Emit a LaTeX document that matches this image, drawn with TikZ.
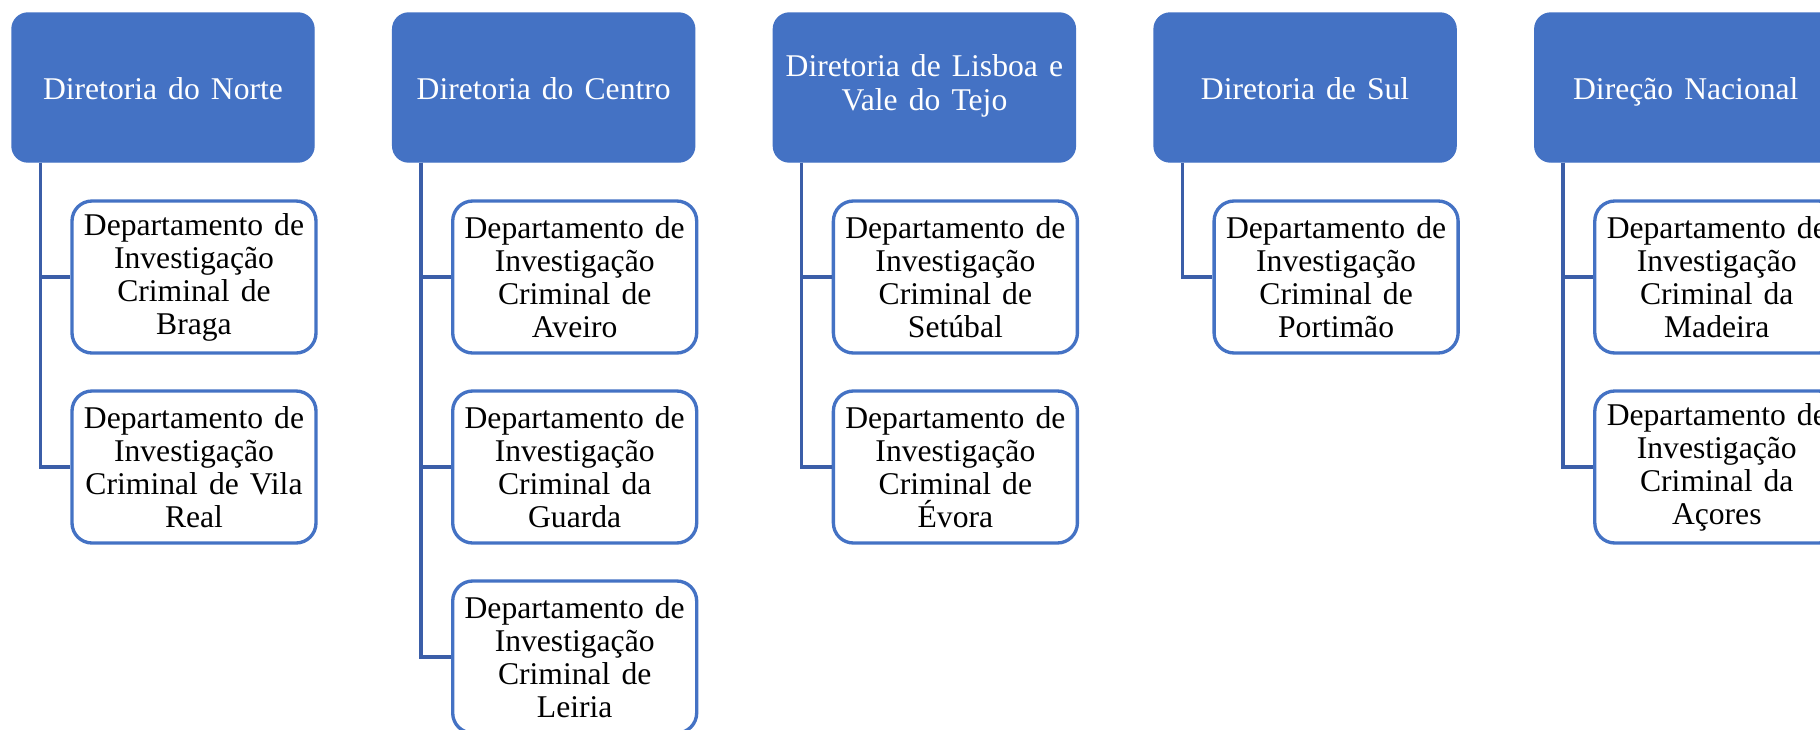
\documentclass[tikz,border=0pt]{standalone}
\usepackage{fontspec}
\setmainfont{Liberation Serif}[WordSpace=1.4]
\usepackage{tikz}
\definecolor{headblue}{RGB}{68,114,196}
\definecolor{lineblue}{RGB}{59,94,168}
\tikzset{
  head/.style={fill=headblue, draw=headblue, rounded corners=0.16cm, minimum width=3.02cm,
    minimum height=1.49cm, inner sep=0pt, align=center, text=white,
    font=\fontsize{9pt}{9.7pt}\selectfont,
    execute at begin node={\rule{0pt}{9.6pt}}, execute at end node=\strut},
  dept/.style={fill=white, draw=headblue, line width=0.95pt, rounded corners=0.2cm,
    minimum width=2.44cm, minimum height=1.52cm, inner sep=0pt, align=center,
    font=\fontsize{9pt}{9.4pt}\selectfont,
    execute at begin node={\rule{0pt}{10.5pt}}},
  conn/.style={draw=lineblue, line width=1pt}
}

\begin{document}
\begin{tikzpicture}
    \useasboundingbox (0,0) rectangle (18.2,-7.3);
    % direcoes
    \node[head] (norte) at (1.63,-0.875) {Diretoria do Norte};
    \node[head] (centro) at (5.437,-0.875) {Diretoria do Centro};
    \node[head] (lisboa) at (9.244,-0.875) {Diretoria de Lisboa e\\Vale do Tejo};
    \node[head] (sul) at (13.051,-0.875) {Diretoria de Sul};
    \node[head] (nacional) at (16.858,-0.875) {Direção Nacional};
    % departamentos
    \node[dept] (braga) at (1.94,-2.77) {Departamento de\\Investigação\\Criminal de\\Braga};
    \node[dept] (vilareal) at (1.94,-4.67) {Departamento de\\Investigação\\Criminal de Vila\\Real};
    \node[dept] (aveiro) at (5.747,-2.77) {Departamento de\\Investigação\\Criminal de\\Aveiro};
    \node[dept] (guarda) at (5.747,-4.67) {Departamento de\\Investigação\\Criminal da\\Guarda};
    \node[dept] (leiria) at (5.747,-6.57) {Departamento de\\Investigação\\Criminal de\\Leiria};
    \node[dept] (setubal) at (9.554,-2.77) {Departamento de\\Investigação\\Criminal de\\Setúbal};
    \node[dept] (evora) at (9.554,-4.67) {Departamento de\\Investigação\\Criminal de\\Évora};
    \node[dept] (portimao) at (13.361,-2.77) {Departamento de\\Investigação\\Criminal de\\Portimão};
    \node[dept] (madeira) at (17.168,-2.77) {Departamento de\\Investigação\\Criminal da\\Madeira};
    \node[dept] (acores) at (17.168,-4.67) {Departamento de\\Investigação\\Criminal da\\Açores};
    % ligacoes
    \draw[conn] ([xshift=2.9mm]norte.south west) |- (braga.west);
    \draw[conn] ([xshift=2.9mm]norte.south west) |- (vilareal.west);
    \draw[conn] ([xshift=2.9mm]centro.south west) |- (aveiro.west);
    \draw[conn] ([xshift=2.9mm]centro.south west) |- (guarda.west);
    \draw[conn] ([xshift=2.9mm]centro.south west) |- (leiria.west);
    \draw[conn] ([xshift=2.9mm]lisboa.south west) |- (setubal.west);
    \draw[conn] ([xshift=2.9mm]lisboa.south west) |- (evora.west);
    \draw[conn] ([xshift=2.9mm]sul.south west) |- (portimao.west);
    \draw[conn] ([xshift=2.9mm]nacional.south west) |- (madeira.west);
    \draw[conn] ([xshift=2.9mm]nacional.south west) |- (acores.west);
\end{tikzpicture}
\end{document}
